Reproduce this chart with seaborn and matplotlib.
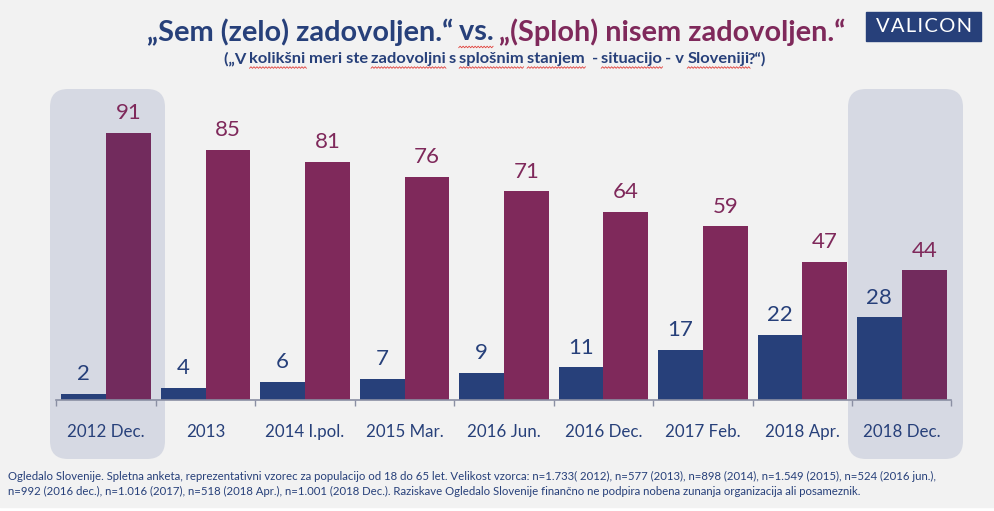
import numpy as np
import pandas as pd
import matplotlib
matplotlib.use('Agg')
import matplotlib.pyplot as plt
from matplotlib.patches import FancyBboxPatch, Rectangle
import seaborn as sns

categories = ['2012 Dec.', '2013', '2014 I.pol.', '2015 Mar.', '2016 Jun.',
              '2016 Dec.', '2017 Feb.', '2018 Apr.', '2018 Dec.']
satisfied = [2, 4, 6, 7, 9, 11, 17, 22, 28]
not_satisfied = [91, 85, 81, 76, 71, 64, 59, 47, 44]

footnote_1 = ('Ogledalo Slovenije. Spletna anketa, reprezentativni vzorec za populacijo od 18 do 65 let. '
              'Velikost vzorca: n=1.733( 2012), n=577 (2013), n=898 (2014), n=1.549 (2015), n=524 (2016 jun.),')
footnote_2 = ('n=992 (2016 dec.), n=1.016 (2017), n=518 (2018 Apr.), n=1.001 (2018 Dec.). '
              'Raziskave Ogledalo Slovenije finančno ne podpira nobena zunanja organizacija ali posameznik.')

BLUE = '#27407a'
PURPLE = '#7f295b'
PURPLE_HL = '#722b5d'
PANEL = '#d6d9e3'
BG = '#f2f2f2'
W, H = 995, 511

sns.set_theme(style='white')
plt.rcParams['font.family'] = ['Lato', 'DejaVu Sans']

df = pd.DataFrame({
    'cat': categories * 2,
    'val': satisfied + not_satisfied,
    'series': ['zadovoljen'] * len(categories) + ['nezadovoljen'] * len(categories),
})

fig = plt.figure(figsize=(W / 100, H / 100), dpi=100, facecolor='white')
# page background, thin white strip stays at the bottom
fig.add_artist(Rectangle((0, 4 / H), 1, 1 - 4 / H, transform=fig.transFigure, color=BG, zorder=-10))

# highlight panels, in pixels of the slide
for x0, x1 in [(50, 165), (848, 963)]:
    fig.add_artist(FancyBboxPatch((x0 + 18, 18 + 52), x1 - x0 - 36, 370 - 36,
                                  boxstyle='round,pad=18,rounding_size=18',
                                  transform=None, fc=PANEL, ec='none', zorder=-5))

ax = fig.add_axes([56.5 / W, (H - 399.5) / H, 895 / W, 310 / H])
ax.patch.set_alpha(0)
sns.barplot(data=df, x='cat', y='val', hue='series', palette=[BLUE, PURPLE],
            width=0.9, gap=0, saturation=1, legend=False, linewidth=0, ax=ax)
ax.set_xlim(-0.5, len(categories) - 0.5)
ax.set_ylim(0, 105.7)

# purple bars in the panels are a little darker
for c in ax.containers[1:]:
    c[0].set_facecolor(PURPLE_HL)
    c[-1].set_facecolor(PURPLE_HL)
for c, col in zip(ax.containers, [BLUE, PURPLE]):
    ax.bar_label(c, padding=7, color=col, fontsize=16)

for s in ['top', 'left', 'right']:
    ax.spines[s].set_visible(False)
ax.spines['bottom'].set_color('#8a8fa3')
ax.spines['bottom'].set_linewidth(1.2)
ax.set_xlabel('')
ax.set_ylabel('')
ax.set_yticks([])
ax.set_xticks(np.arange(len(categories) + 1) - 0.5, minor=True)
ax.tick_params(axis='x', which='minor', length=4.5, width=1, color='#8a8fa3', bottom=True)
ax.tick_params(axis='x', which='major', length=0, pad=17.5, labelsize=12.2, labelcolor=BLUE)


def px(x, y):
    return x / W, 1 - y / H


def squiggle(x0, x1, y):
    xs = np.arange(x0, x1 + 1, 1.5)
    ys = y + np.where(np.arange(len(xs)) % 2 == 0, 0.8, -0.8)
    fig.add_artist(plt.Line2D(xs / W, 1 - ys / H, color='#e0403a', lw=0.6, transform=fig.transFigure))


def draw_runs(runs, x, y, size, weight):
    # text pieces one after the other, runs are (text, colour, underlined)
    r = fig.canvas.get_renderer()
    for txt, col, wavy in runs:
        t = fig.text(*px(x, y), txt, color=col, fontsize=size, fontweight=weight, va='center', ha='left')
        w = t.get_window_extent(r).width
        # trailing spaces are not measured reliably
        if txt.endswith(' '):
            w = fig.text(0, 0, txt.rstrip() + '|', fontsize=size, fontweight=weight, alpha=0).get_window_extent(r).width
            w -= fig.text(0, 0, '|', fontsize=size, fontweight=weight, alpha=0).get_window_extent(r).width
            if wavy:
                squiggle(x, x + w, y + size * 0.72)
            w += size * 0.26
        else:
            if wavy:
                squiggle(x, x + w, y + size * 0.72)
            w -= 1.5
        x += w


draw_runs([('„Sem (zelo) zadovoljen.“ ', BLUE, False), ('vs. ', BLUE, True),
           ('„(Sploh) nisem zadovoljen.“', PURPLE, False)], 147, 32, 20.8, 'bold')

draw_runs([('(„V ', BLUE, False), ('kolikšni ', BLUE, True), ('meri ste ', BLUE, False),
           ('zadovoljni ', BLUE, True), ('s ', BLUE, False), ('splošnim ', BLUE, True),
           ('stanjem ', BLUE, True), (' - ', BLUE, False), ('situacijo ', BLUE, True),
           ('- v ', BLUE, False), ('Sloveniji', BLUE, True), ('?“)', BLUE, False)],
          224, 59, 11.85, 'bold')

# logo
fig.add_artist(Rectangle((866 / W, 1 - 41 / H), 115 / W, 29 / H, transform=fig.transFigure, color=BLUE))
fig.text(*px(924, 26.5), '\u200a'.join('VALICON'), color='white', fontsize=14.5, ha='center', va='center',
         family=['Lato', 'DejaVu Sans'])

fig.text(*px(8, 476), footnote_1, color=BLUE, fontsize=8.22, va='center')
fig.text(*px(8, 491), footnote_2, color=BLUE, fontsize=8.22, va='center')

fig.savefig('out.png', dpi=100, facecolor=fig.get_facecolor())
